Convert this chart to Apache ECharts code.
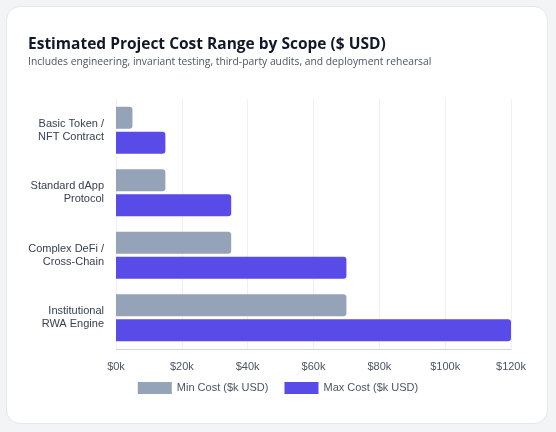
<!DOCTYPE html>
<html><head><meta charset="utf-8">
<script src="https://cdn.jsdelivr.net/npm/echarts@6/dist/echarts.min.js"></script>
<style>
html,body{margin:0;padding:0;background:#f3f4f6;width:556px;height:432px;overflow:hidden}
#card{position:absolute;left:6px;top:6px;width:542px;height:418px;background:#fff;border:1px solid #e5e7eb;border-radius:14px;box-sizing:border-box}
#title{position:absolute;left:21px;top:25px;font:bold 15.5px "Open Sans",sans-serif;color:#111827}
#sub{position:absolute;left:21px;top:47px;font:10.3px "Open Sans",sans-serif;color:#4b5563}
#c{position:absolute;left:0;top:0;width:542px;height:418px}
</style></head><body>
<div id="card"><div id="c"></div><div id="title">Estimated Project Cost Range by Scope ($ USD)</div><div id="sub">Includes engineering, invariant testing, third-party audits, and deployment rehearsal</div></div>
<script>
const categories=["Basic Token /\nNFT Contract","Standard dApp\nProtocol","Complex DeFi /\nCross-Chain","Institutional\nRWA Engine"];
const minCost=[5,15,35,70];
const maxCost=[15,35,70,120];
const ticks=[0,20,40,60,80,100,120];
const ch=echarts.init(document.getElementById('c'));
ch.setOption({
 animation:false,
 grid:{left:109,right:38,top:92,bottom:76},
 legend:{bottom:26,left:'center',itemWidth:34,itemHeight:12,itemGap:16,icon:'rect',textStyle:{color:'#4b5563',fontSize:11,fontFamily:'Liberation Sans'},data:['Min Cost ($k USD)','Max Cost ($k USD)']},
 xAxis:{type:'value',min:0,max:120,interval:20,axisLabel:{formatter:v=>'$'+v+'k',color:'#4b5563',fontSize:11,fontFamily:'Liberation Sans',margin:12},splitLine:{lineStyle:{color:'#eef0f3'}},axisLine:{show:true,lineStyle:{color:'#d1d5db'}}},
 yAxis:{type:'category',inverse:true,data:categories,axisTick:{show:false},axisLine:{show:false},axisLabel:{color:'#374151',fontSize:11,fontFamily:'Liberation Sans',lineHeight:13,margin:12}},
 series:[
  {name:'Min Cost ($k USD)',type:'bar',data:minCost,barWidth:22,barGap:'14%',itemStyle:{color:'#94a3b8',borderRadius:[0,3,3,0]}},
  {name:'Max Cost ($k USD)',type:'bar',data:maxCost,barWidth:22,itemStyle:{color:'#584be8',borderRadius:[0,3,3,0]}}
 ]
});
</script></body></html>
